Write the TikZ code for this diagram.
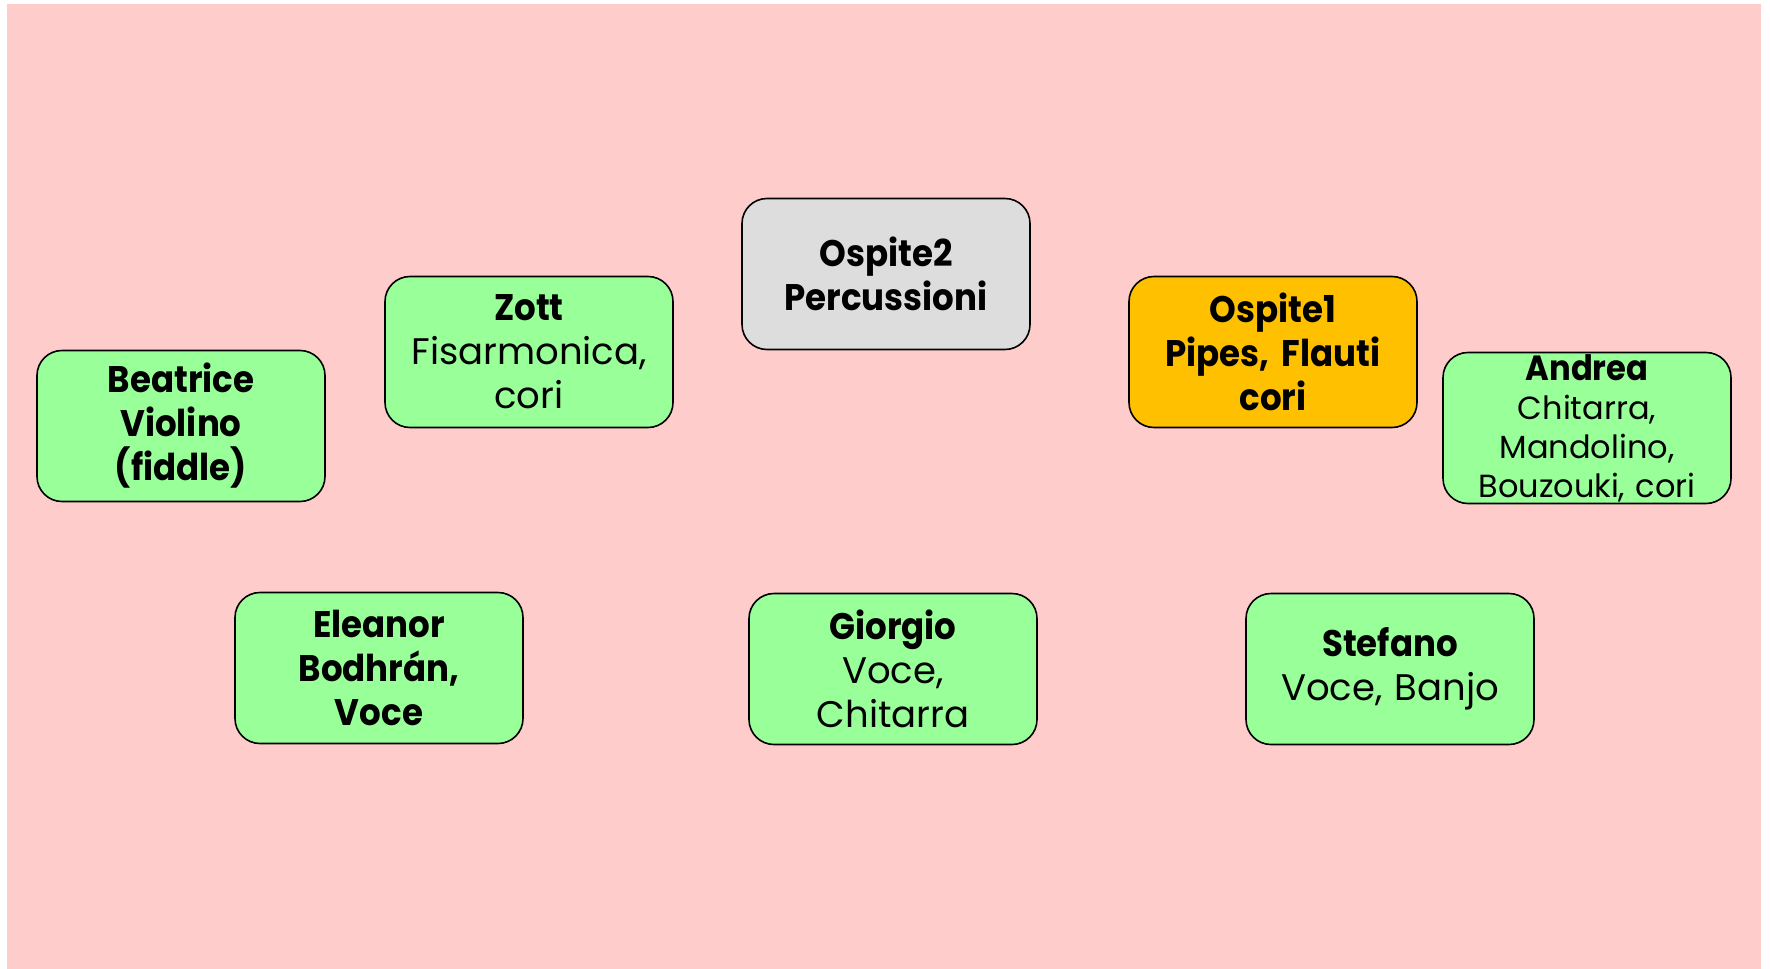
\documentclass[tikz,border=0pt]{standalone}
\usepackage{fontspec}
\setmainfont{Poppins}[BoldFeatures={FakeStretch=0.92}]
\usetikzlibrary{positioning}
\definecolor{bgpink}{RGB}{255,204,204}
\definecolor{boxgreen}{RGB}{153,255,153}
\definecolor{boxgray}{RGB}{221,221,221}
\definecolor{boxorange}{RGB}{255,192,0}

\begin{document}
\begin{tikzpicture}
      [x = 1pt, y = -1pt,
      member/.style= {
         draw,
         line width = 1.6pt,
         fill = boxgreen,
         rounded corners = 25pt,
         minimum width = 288pt,
         minimum height = 151pt,
         text width = 284pt,
         inner sep = 0pt,
         align = center,
         font = \fontsize{37}{44}\selectfont
      },
      guest/.style= {
         member,
         fill = boxgray
      },
      leader/.style= {
         member,
         fill = boxorange
      },
      small/.style= {
         font = \fontsize{32}{39}\selectfont
      }]
      \useasboundingbox (0, 0) rectangle (1770, 969);
      \fill[bgpink] (7, 4) rectangle (1761, 969);

      \node[member] (beatrice) at (181, 426)
         {\textbf{Beatrice}\\ \textbf{Violino}\\ \textbf{(fiddle)}};
      \node[member] (zott) at (529, 352)
         {\textbf{Zott}\\ Fisarmonica,\\ cori};
      \node[guest] (ospite2) at (886, 274)
         {\textbf{Ospite2}\\ \textbf{Percussioni}};
      \node[leader] (ospite1) at (1273, 352)
         {\textbf{Ospite1}\\ \textbf{Pipes, Flauti}\\ \textbf{cori}};
      \node[member, small] (andrea) at (1587, 428)
         {\textbf{\fontsize{35}{39}\selectfont Andrea}\\ Chitarra,\\ Mandolino,\\ Bouzouki, cori};

      \node[member] (eleanor) at (379, 668)
         {\textbf{Eleanor}\\ \textbf{Bodhrán,}\\ \textbf{Voce}};
      \node[member] (giorgio) at (893, 669)
         {\textbf{Giorgio}\\ Voce,\\ Chitarra};
      \node[member] (stefano) at (1390, 669)
         {\textbf{Stefano}\\ Voce, Banjo};
\end{tikzpicture}
\end{document}
